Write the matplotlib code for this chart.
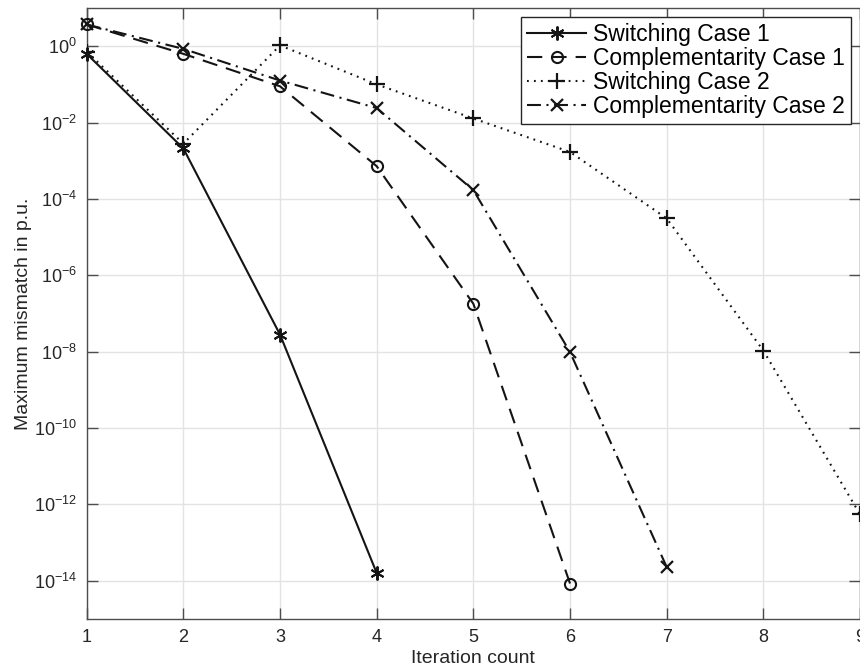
import matplotlib
matplotlib.use("Agg")
import matplotlib.pyplot as plt
from matplotlib.ticker import FixedLocator, LogFormatterSciNotation

plt.rcParams['font.family'] = ['Liberation Sans', 'DejaVu Sans']
plt.rcParams['mathtext.fontset'] = 'custom'
plt.rcParams['mathtext.rm'] = 'Liberation Sans'
plt.rcParams['mathtext.it'] = 'Liberation Sans'
plt.rcParams['mathtext.default'] = 'regular'
plt.rcParams['axes.unicode_minus'] = False
plt.rcParams['lines.scale_dashes'] = False

# ---- data ----
labels = ["Switching Case 1", "Complementarity Case 1",
          "Switching Case 2", "Complementarity Case 2"]
iter_sw1 = [1, 2, 3, 4]
val_sw1 = [0.63, 2.1e-3, 2.8e-8, 1.6e-14]
iter_cp1 = [1, 2, 3, 4, 5, 6]
val_cp1 = [3.7, 0.63, 0.089, 7.2e-4, 1.8e-7, 8.5e-15]
iter_sw2 = [1, 2, 3, 4, 5, 6, 7, 8, 9]
val_sw2 = [0.72, 2.8e-3, 1.05, 0.1, 0.0128, 1.7e-3, 3.1e-5, 1.07e-8, 5.5e-13]
iter_cp2 = [1, 2, 3, 4, 5, 6, 7]
val_cp2 = [3.7, 0.85, 0.126, 0.024, 1.7e-4, 9.8e-9, 2.3e-14]
xticks = [1, 2, 3, 4, 5, 6, 7, 8, 9]
yticks_exp = [0, -2, -4, -6, -8, -10, -12, -14]

W, H = 860, 668
fig = plt.figure(figsize=(W / 100, H / 100), dpi=100)
ax = fig.add_axes([86.7 / W, 1 - 619 / H, (860 - 86.7) / W, (619 - 8) / H])

c = '#141414'
lw = 1.5
ax.plot(iter_sw1, val_sw1, color=c, lw=lw, ls='-', marker=(6, 2, 0), ms=10,
        mew=1.4, label=labels[0], clip_on=False, zorder=5)
ax.plot(iter_cp1, val_cp1, color=c, lw=lw, ls=(0, (11, 6.5)), marker='o', ms=8,
        mew=1.5, mfc='none', label=labels[1], clip_on=False, zorder=5)
ax.plot(iter_sw2, val_sw2, color=c, lw=lw, ls=(0, (1.3, 3.7)), marker='+', ms=11,
        mew=1.6, label=labels[2], clip_on=True, zorder=5)
ax.plot(iter_cp2, val_cp2, color=c, lw=lw, ls=(0, (10, 4, 1.5, 4)), marker='x', ms=8,
        mew=1.6, label=labels[3], clip_on=False, zorder=5)

ax.set_yscale('log')
ax.set_xlim(1, 9)
ax.set_ylim(1e-15, 1e1)
ax.xaxis.set_major_locator(FixedLocator(xticks))
ax.yaxis.set_major_locator(FixedLocator([10.0 ** e for e in yticks_exp]))
ax.yaxis.set_minor_locator(FixedLocator([]))
ax.yaxis.set_major_formatter(LogFormatterSciNotation())

axcol = '#262626'
ax.grid(True, which='major', color='#e3e3e3', lw=1.0)
ax.set_axisbelow(True)
for s in ax.spines.values():
    s.set_color('#4d4d4d')
    s.set_linewidth(1.0)
ax.tick_params(which='major', direction='in', length=8, width=1.0, color='#4d4d4d',
               top=True, right=True, labelsize=13, labelcolor=axcol, pad=7)
ax.tick_params(which='minor', length=0)

ax.set_xlabel('Iteration count', fontsize=14, color=axcol, labelpad=3)
ax.set_ylabel('Maximum mismatch in p.u.', fontsize=14, color=axcol, labelpad=1)

leg = ax.legend(loc='upper right', fontsize=16.5, handlelength=2.6, handletextpad=0.3,
                labelspacing=0.05, borderpad=0.25, borderaxespad=0.4,
                fancybox=False, framealpha=1, edgecolor='#262626', numpoints=1)
leg.get_frame().set_linewidth(1.0)

fig.savefig('out.png', dpi=100)
